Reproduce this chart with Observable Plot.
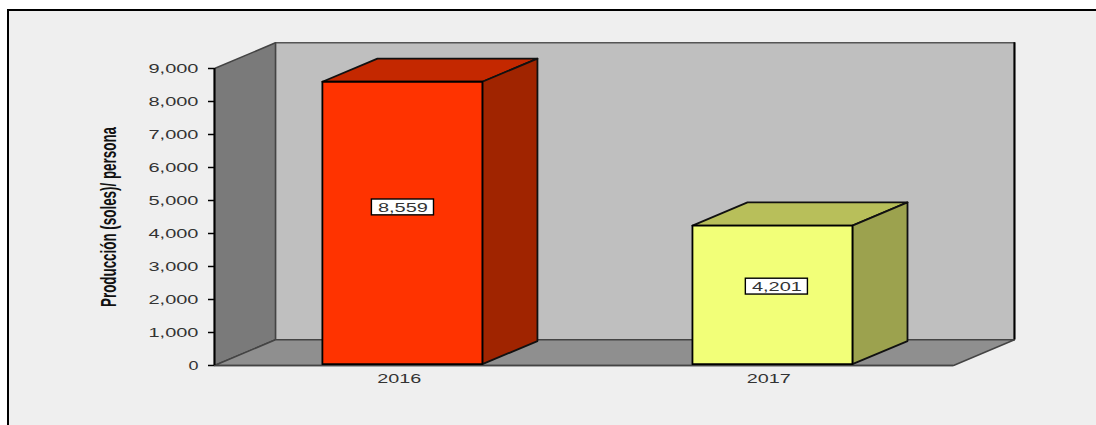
<!DOCTYPE html>
<html><head><meta charset="utf-8">
<script src="https://cdn.jsdelivr.net/npm/d3@7"></script>
<script src="https://cdn.jsdelivr.net/npm/@observablehq/plot@0.6"></script>
<style>
html,body{margin:0;padding:0;background:#fff;overflow:hidden}
#frame{position:absolute;left:7px;top:9px;width:1096px;height:430px;border:2px solid #000;border-right:none;background:#efefef;box-sizing:border-box}
#chart{position:absolute;left:0;top:0}
svg{background:transparent!important}
</style></head><body>
<div id="frame"></div><div id="chart"></div>
<script>
const years = ["2016", "2017"];
const values = [8559, 4201];
const valueLabels = ["8,559", "4,201"];
const labelHeights = [4790, 2390];
const labelCenters = [0.51, 1.522];
const barLeft = [0.292, 1.2935];
const barWidth = 0.433;
const barLift = 40;
const faceColors = ["#ff3300", "#f2ff78"];
const topColors = ["#c42800", "#b8bf5a"];
const sideColors = ["#a02400", "#9ca24e"];
const yMax = 9000, xMax = 2;
const wallDx = 0.165, wallDy = 780;
const barDx = 0.149, barDy = 700;

const room = [
  {id:"back", fill:"#bfbfbf", stroke:"#555", pts:[[wallDx,wallDy],[xMax+wallDx,wallDy],[xMax+wallDx,yMax+wallDy],[wallDx,yMax+wallDy]]},
  {id:"left", fill:"#7a7a7a", stroke:"#444", pts:[[0,0],[wallDx,wallDy],[wallDx,yMax+wallDy],[0,yMax]]},
  {id:"floor", fill:"#8f8f8f", stroke:"#444", pts:[[0,0],[xMax,0],[xMax+wallDx,wallDy],[wallDx,wallDy]]}
];
const bars = values.flatMap((v,i)=>{
  const a = barLeft[i], b = a+barWidth, lo = barLift, hi = v+barLift;
  return [
    {id:"top"+i, fill:topColors[i], stroke:"#111", pts:[[a,hi],[b,hi],[b+barDx,hi+barDy],[a+barDx,hi+barDy]]},
    {id:"side"+i, fill:sideColors[i], stroke:"#111", pts:[[b,lo],[b+barDx,lo+barDy],[b+barDx,hi+barDy],[b,hi]]},
    {id:"face"+i, fill:faceColors[i], stroke:"#000", pts:[[a,lo],[b,lo],[b,hi],[a,hi]]}
  ];
});
const flat = polys => polys.flatMap(p=>p.pts.map(([x,y])=>({id:p.id,fill:p.fill,stroke:p.stroke,x,y})));
const poly = (polys,sw) => Plot.line(flat(polys),{x:"x",y:"y",z:"id",fill:"fill",stroke:"stroke",strokeWidth:sw,curve:"linear-closed",strokeLinejoin:"round"});

const labels = values.map((v,i)=>({cx:labelCenters[i],cy:labelHeights[i],t:valueLabels[i]}));
const plot = Plot.plot({
  width:1096,height:425,marginLeft:214,marginRight:143,marginTop:68,marginBottom:60,
  style:{background:"transparent",fontFamily:"Liberation Sans, Arial, sans-serif",color:"#333"},
  x:{domain:[0,xMax],axis:null},
  y:{domain:[0,yMax],axis:null},
  color:{type:"identity"},
  marks:[
    poly(room,1.5),
    Plot.ruleX([xMax+wallDx],{y1:wallDy,y2:yMax+wallDy,stroke:"#000",strokeWidth:2}),
    Plot.ruleY([0],{x1:0,x2:xMax,stroke:"#444",strokeWidth:1.5}),
    poly(bars,1.8),
    Plot.ruleX([0],{y1:0,y2:yMax,stroke:"#000",strokeWidth:2}),
    Plot.axisY({ticks:d3.range(0,yMax+1,1000),tickFormat:d3.format(","),tickSize:6,tickPadding:10,fontSize:13,label:null,stroke:"#000",strokeWidth:1.5}),
    Plot.axisX({ticks:[0.5,1.5],tickFormat:(d,i)=>years[i],tickSize:0,tickPadding:8,fontSize:13,label:null}),
    Plot.rect(labels,{x1:d=>d.cx-0.084,x2:d=>d.cx+0.084,y1:d=>d.cy-240,y2:d=>d.cy+240,fill:"#fff",stroke:"#000",strokeWidth:1.4}),
    Plot.text(labels,{x:"cx",y:"cy",text:"t",fontSize:13,fill:"#333"}),
    Plot.text(["Producción (soles)/ persona"],{frameAnchor:"left",textAnchor:"middle",dx:-106,rotate:-90,fontSize:22,fontWeight:"bold",fill:"#111",fontFamily:"Liberation Sans Narrow, Liberation Sans, sans-serif"})
  ]
});
document.getElementById("chart").append(plot);
// widen the numeric labels and narrow the axis title, as in the source picture
d3.select(plot).selectAll("text").each(function(){
  const s=this.textContent;
  const sel=d3.select(this);
  const fit=w=>sel.attr("textLength",w).attr("lengthAdjust","spacingAndGlyphs");
  if(/^Producc/.test(s)) fit(180);
  else if(s==="0") fit(10);
  else if(/,/.test(s)) fit(50);
  else if(/^20/.test(s)) fit(44);
});
</script>
</body></html>
